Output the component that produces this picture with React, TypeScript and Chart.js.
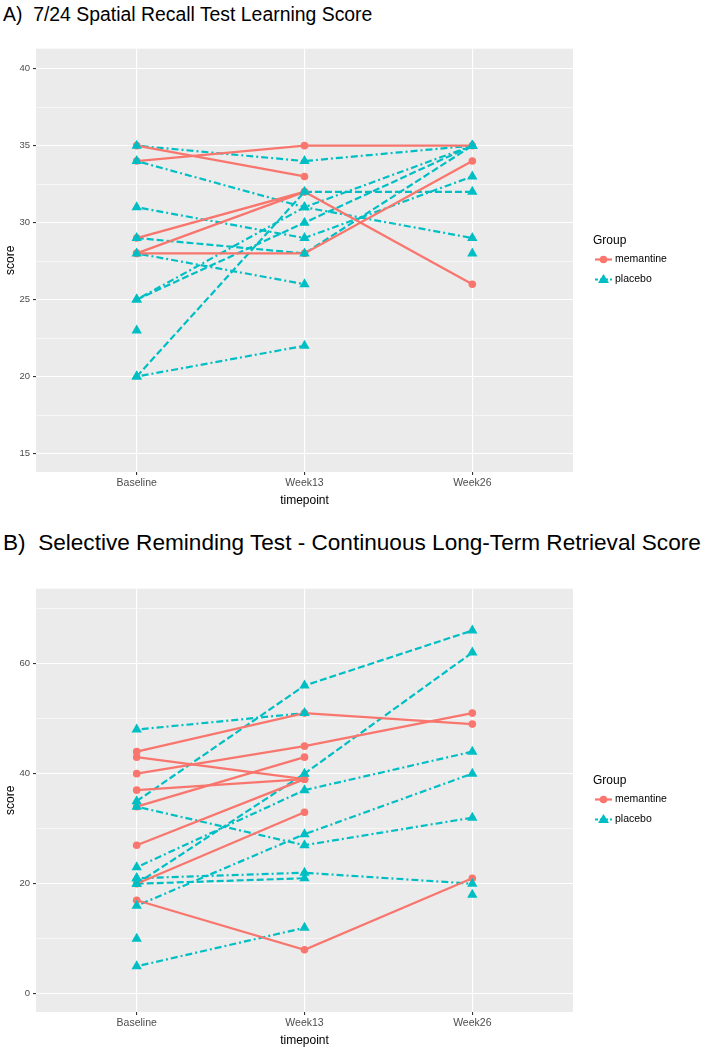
import React, { useEffect, useRef } from 'react';
import { Chart, registerables } from 'chart.js';
Chart.register(...registerables);

// ---------- data ----------
const timepoints = ['Baseline', 'Week13', 'Week26'];
const groupNames = ['memantine', 'placebo'];

// Panel A: 7/24 Spatial Recall Test Learning Score (one row per subject: Baseline, Week13, Week26)
const spatialMemantine: (number | null)[][] = [
  [35, 33, null],
  [34, 35, 35],
  [29, 32, 26],
  [28, 32, null],
  [28, 28, 34],
];
const spatialPlacebo: (number | null)[][] = [
  [35, 34, 35],
  [34, 31, 29],
  [31, 29, 33],
  [29, 28, 35],
  [28, 26, null],
  [25, 30, 35],
  [25, 31, 35],
  [23, null, null],
  [20, 32, 32],
  [20, 22, null],
  [null, null, 28],
];
const spatialMajorTicks = [15, 20, 25, 30, 35, 40];
const spatialMinorTicks = [17.5, 22.5, 27.5, 32.5, 37.5];
const spatialRange = [13.8, 41.3];

// Panel B: Selective Reminding Test - Continuous Long-Term Retrieval Score
const srtMemantine: (number | null)[][] = [
  [44, 51, 49],
  [43, 39, null],
  [40, 45, 51],
  [37, 39, null],
  [34, 43, null],
  [27, 39, null],
  [20, 33, null],
  [17, 8, 21],
];
const srtPlacebo: (number | null)[][] = [
  [48, 51, null],
  [35, 56, 66],
  [34, 27, 32],
  [23, 37, 44],
  [20, 40, 62],
  [21, 22, 20],
  [20, 21, null],
  [16, 29, 40],
  [10, null, null],
  [5, 12, null],
  [null, null, 18],
  [21, null, null],
];
const srtMajorTicks = [0, 20, 40, 60];
const srtMinorTicks = [10, 30, 50, 70];
const srtRange = [-3.3, 73.6];

// ---------- styles ----------
const RED = '#F8766D';
const TEAL = '#00BFC4';
const DASHED = [7, 3];
const DOTDASH = [2, 3, 7, 3];
const spatialPlaceboDash = ['dd', 'dd', 'dd', 'd', 'dd', 'd', 'dd', 'dd', 'd', 'dd', 'dd'];
const srtPlaceboDash = ['dd', 'd', 'dd', 'dd', 'd', 'dd', 'd', 'dd', 'dd', 'dd', 'dd', 'dd'];
const FONT = "'Liberation Sans', Arial, sans-serif";

function buildDatasets(mem: (number | null)[][], pla: (number | null)[][], plaDash: string[]) {
  const ds: any[] = [];
  // line layer (drawn first, beneath all points); memantine lines over placebo lines
  pla.forEach((row, i) => {
    ds.push({
      label: groupNames[1] + ' line ' + (i + 1),
      data: row.map((v, k) => ({ x: k, y: v })),
      borderColor: TEAL,
      backgroundColor: TEAL,
      borderWidth: 2.2,
      borderDash: plaDash[i] === 'd' ? DASHED : DOTDASH,
      pointRadius: 0,
      spanGaps: false,
      order: 4,
    });
  });
  mem.forEach((row, i) => {
    ds.push({
      label: groupNames[0] + ' line ' + (i + 1),
      data: row.map((v, k) => ({ x: k, y: v })),
      borderColor: RED,
      backgroundColor: RED,
      borderWidth: 2.3,
      pointRadius: 0,
      spanGaps: false,
      order: 3,
    });
  });
  // point layer
  mem.forEach((row, i) => {
    ds.push({
      label: groupNames[0] + ' ' + (i + 1),
      data: row.map((v, k) => ({ x: k, y: v })),
      showLine: false,
      borderColor: RED,
      backgroundColor: RED,
      pointStyle: 'circle',
      pointRadius: 3.8,
      pointBorderWidth: 0,
      order: 2,
    });
  });
  pla.forEach((row, i) => {
    ds.push({
      label: groupNames[1] + ' ' + (i + 1),
      data: row.map((v, k) => ({ x: k, y: v })),
      showLine: false,
      borderColor: TEAL,
      backgroundColor: TEAL,
      pointStyle: 'triangle',
      pointRadius: 6,
      pointBorderWidth: 0,
      order: 1,
    });
  });
  return ds;
}

const bgPlugin = {
  id: 'panelBg',
  beforeDraw(chart: any) {
    const { ctx, chartArea } = chart;
    ctx.save();
    ctx.fillStyle = '#EBEBEB';
    ctx.fillRect(chartArea.left, chartArea.top, chartArea.right - chartArea.left, chartArea.bottom - chartArea.top);
    ctx.restore();
  },
};

const legendPlugin = {
  id: 'ggLegend',
  afterDraw(chart: any) {
    const { ctx } = chart;
    const x0 = 593;
    const yTitle = 201;
    ctx.save();
    ctx.fillStyle = '#000';
    ctx.font = `12px ${FONT}`;
    ctx.textAlign = 'left';
    ctx.textBaseline = 'middle';
    ctx.fillText('Group', x0, yTitle);
    const items = [
      { name: groupNames[0], color: RED, y: 219.5, tri: false },
      { name: groupNames[1], color: TEAL, y: 239.5, tri: true },
    ];
    items.forEach((it) => {
      ctx.strokeStyle = it.color;
      ctx.fillStyle = it.color;
      ctx.lineWidth = 2.2;
      ctx.setLineDash(it.tri ? [3, 2] : []);
      ctx.beginPath();
      ctx.moveTo(595, it.y);
      ctx.lineTo(612, it.y);
      ctx.stroke();
      ctx.setLineDash([]);
      ctx.beginPath();
      if (it.tri) {
        ctx.moveTo(603.5, it.y - 5.5);
        ctx.lineTo(609, it.y + 3.5);
        ctx.lineTo(598, it.y + 3.5);
        ctx.closePath();
      } else {
        ctx.arc(603.5, it.y, 3.8, 0, Math.PI * 2);
      }
      ctx.fill();
      ctx.fillStyle = '#000';
      ctx.font = `10.5px ${FONT}`;
      ctx.fillText(it.name, 615, it.y);
    });
    ctx.restore();
  },
};

function makeConfig(
  mem: (number | null)[][],
  pla: (number | null)[][],
  plaDash: string[],
  major: number[],
  minor: number[],
  range: number[]
): any {
  const allTicks = [...major, ...minor].sort((a, b) => a - b);
  return {
    type: 'line',
    data: { datasets: buildDatasets(mem, pla, plaDash) },
    options: {
      animation: false,
      responsive: false,
      devicePixelRatio: 1,
      layout: { padding: { left: 0, right: 140, top: 7, bottom: 0 } },
      plugins: { legend: { display: false }, tooltip: { enabled: false } },
      scales: {
        x: {
          type: 'linear',
          min: -0.6,
          max: 2.6,
          afterBuildTicks: (s: any) => {
            s.ticks = timepoints.map((_, i) => ({ value: i }));
          },
          afterFit: (s: any) => {
            s.height = 38;
          },
          ticks: {
            callback: (v: any) => timepoints[v] ?? '',
            color: '#4D4D4D',
            font: { size: 10.5, family: FONT },
            padding: 2,
            autoSkip: false,
            maxRotation: 0,
          },
          grid: { color: '#FFFFFF', lineWidth: 1.1, tickColor: '#333333', tickLength: 3, drawTicks: true },
          border: { display: false },
          title: { display: true, text: 'timepoint', color: '#000', font: { size: 12, family: FONT }, padding: { top: 0, bottom: 2 } },
        },
        y: {
          type: 'linear',
          min: range[0],
          max: range[1],
          afterBuildTicks: (s: any) => {
            s.ticks = allTicks.map((v) => ({ value: v }));
          },
          afterFit: (s: any) => {
            s.width = 36;
          },
          ticks: {
            callback: (v: any) => (major.includes(v) ? String(v) : ''),
            color: '#4D4D4D',
            font: { size: 9.5, family: FONT },
            padding: 3,
            autoSkip: false,
          },
          grid: {
            color: '#FFFFFF',
            lineWidth: (c: any) => (c.tick && major.includes(c.tick.value) ? 1.1 : 0.55),
            tickColor: (c: any) => (c.tick && major.includes(c.tick.value) ? '#333333' : 'rgba(0,0,0,0)'),
            tickLength: 3,
            drawTicks: true,
          },
          border: { display: false },
          title: { display: true, text: 'score', color: '#000', font: { size: 12, family: FONT }, padding: { top: 3, bottom: 0 } },
        },
      },
    },
    plugins: [bgPlugin, legendPlugin],
  };
}

function Panel(props: { config: () => any; top: number }) {
  const ref = useRef<HTMLCanvasElement>(null);
  useEffect(() => {
    if (!ref.current) return;
    const chart = new Chart(ref.current, props.config());
    return () => chart.destroy();
  }, []);
  return (
    <canvas
      ref={ref}
      width={713}
      height={470}
      style={{ position: 'absolute', left: 0, top: props.top, width: 713, height: 470 }}
    />
  );
}

const titleStyle: React.CSSProperties = {
  position: 'absolute',
  left: 3,
  fontFamily: FONT,
  color: '#000',
  whiteSpace: 'pre',
  lineHeight: '26px',
};

export default function App() {
  return (
    <div style={{ position: 'fixed', left: 0, top: 0, width: 713, height: 1050, background: '#fff', overflow: 'hidden' }}>
      <div style={{ ...titleStyle, top: 1, fontSize: 19.4 }}>{'A)  7/24 Spatial Recall Test Learning Score'}</div>
      <Panel top={40} config={() => makeConfig(spatialMemantine, spatialPlacebo, spatialPlaceboDash, spatialMajorTicks, spatialMinorTicks, spatialRange)} />
      <div style={{ ...titleStyle, top: 530, fontSize: 22.6 }}>{'B)  Selective Reminding Test - Continuous Long-Term Retrieval Score'}</div>
      <Panel top={580} config={() => makeConfig(srtMemantine, srtPlacebo, srtPlaceboDash, srtMajorTicks, srtMinorTicks, srtRange)} />
    </div>
  );
}
